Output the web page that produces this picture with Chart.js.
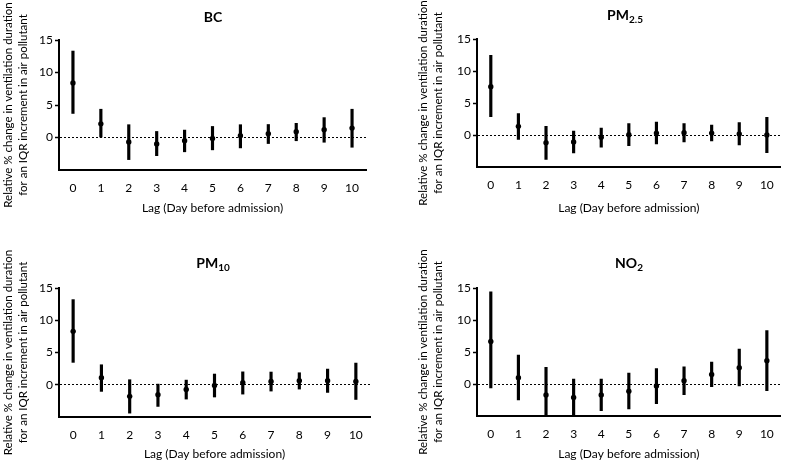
<!DOCTYPE html>
<html><head><meta charset="utf-8">
<script src="https://cdn.jsdelivr.net/npm/chart.js@4"></script>
<style>
body{margin:0;background:#fff;width:785px;height:463px;position:relative;overflow:hidden;font-family:Lato,sans-serif}
canvas{position:absolute}
.t{position:absolute;font-weight:bold;font-size:14px;color:#000;transform:translate(-50%,-50%);white-space:nowrap;line-height:1}
.t sub{font-size:10px;vertical-align:-3px}
</style></head><body>
<canvas id="cBC" style="left:0;top:0" width="392" height="231"></canvas>
<canvas id="cPM25" style="left:392px;top:0" width="393" height="231"></canvas>
<canvas id="cPM10" style="left:0;top:231px" width="392" height="232"></canvas>
<canvas id="cNO2" style="left:392px;top:231px" width="393" height="232"></canvas>
<div class="t" style="left:213px;top:17px">BC</div>
<div class="t" style="left:625px;top:16px">PM<sub>2.5</sub></div>
<div class="t" style="left:213px;top:264px">PM<sub>10</sub></div>
<div class="t" style="left:629px;top:264px">NO<sub>2</sub></div>
<script>
// lag days
const lags = ['0','1','2','3','4','5','6','7','8','9','10'];
const yTicks = [-5,0,5,10,15];

// BC
const bcEst = [8.4, 2.1, -0.7, -1.0, -0.5, -0.15, 0.26, 0.57, 0.88, 1.19, 1.45];
const bcLo  = [3.7, 0.0, -3.4, -2.8, -2.2, -1.9, -1.6, -0.93, -0.5, -0.73, -1.5];
const bcHi  = [13.3, 4.35, 1.97, 0.93, 1.14, 1.7, 1.97, 2.0, 2.18, 3.06, 4.35];

// PM2.5
const pm25Est = [7.55, 1.35, -1.2, -1.1, -0.36, 0.05, 0.3, 0.36, 0.3, 0.15, 0.0];
const pm25Lo  = [2.86, -0.68, -3.8, -2.8, -1.9, -1.67, -1.4, -1.1, -0.94, -1.56, -2.76];
const pm25Hi  = [12.45, 3.33, 1.35, 0.62, 1.1, 1.8, 2.0, 1.77, 1.56, 1.93, 2.76];

// PM10
const pm10Est = [8.28, 1.09, -1.8, -1.55, -0.72, -0.1, 0.31, 0.52, 0.62, 0.62, 0.52];
const pm10Lo  = [3.47, -1.03, -4.4, -3.36, -2.22, -1.9, -1.45, -0.98, -0.67, -1.19, -2.28];
const pm10Hi  = [13.2, 3.1, 0.78, 0.1, 0.72, 1.66, 2.0, 1.97, 1.86, 2.43, 3.36];

// NO2
const no2Est = [6.64, 0.99, -1.7, -2.1, -1.7, -1.14, -0.31, 0.52, 1.5, 2.54, 3.63];
const no2Lo  = [-0.62, -2.5, -6.0, -5.4, -4.15, -3.9, -3.06, -1.66, -0.42, -0.31, -1.04];
const no2Hi  = [14.4, 4.5, 2.6, 0.78, 0.78, 1.7, 2.4, 2.7, 3.43, 5.45, 8.35];

const yTitle = ['Relative % change in ventilation duration','for an IQR increment in air pollutant'];
const FONT = 'Lato, sans-serif';

function makeChart(id, est, lo, hi, box){
  const cv = document.getElementById(id);
  new Chart(cv, {
    data:{
      labels: lags,
      datasets:[
        {type:'line', data:est, showLine:false, pointRadius:2.7, pointBackgroundColor:'#000', pointBorderWidth:0, order:0},
        {type:'bar', data:lo.map((v,i)=>[v,hi[i]]), backgroundColor:'#000', barThickness:2.5, order:1}
      ]
    },
    options:{
      responsive:false, animation:false, devicePixelRatio:1,
      layout:{padding:{left:0, right:cv.width-box.right, top:box.top, bottom:0}},
      plugins:{legend:{display:false}, tooltip:{enabled:false}},
      scales:{
        x:{
          type:'category', offset:true,
          grid:{display:false, drawTicks:false},
          border:{color:'#000', width:2},
          ticks:{color:'#000', font:{family:FONT, size:12}, padding:11},
          title:{display:true, text:'Lag (Day before admission)', color:'#000', font:{family:FONT, size:12}, padding:{top:0,bottom:box.xTitlePad}},
          afterFit:s=>{ s.height = cv.height - box.bottom; }
        },
        y:{
          min:-5, max:15,
          afterBuildTicks:s=>{ s.ticks = yTicks.map(v=>({value:v})); },
          ticks:{color:'#000', font:{family:FONT, size:12}, padding:2, callback:v=>v===-5?'':v},
          grid:{
            color:c=>(c.tick && c.tick.value===0)?'#000':'rgba(0,0,0,0)',
            tickColor:c=>(c.tick && c.tick.value===-5)?'rgba(0,0,0,0)':'#000',
            tickLength:4, tickWidth:1.5, lineWidth:1
          },
          border:{color:'#000', width:2, dash:[2,2]},
          title:{display:true, text:yTitle, color:'#000', font:{family:FONT, size:11.5, lineHeight:1.3}, padding:{top:box.yTitlePad, bottom:0}},
          afterFit:s=>{ s.width = box.left; }
        }
      }
    }
  });
}

makeChart('cBC', bcEst, bcLo, bcHi, {left:59, right:366, top:40, bottom:170, xTitlePad:16, yTitlePad:1});
makeChart('cPM25', pm25Est, pm25Lo, pm25Hi, {left:85, right:390, top:39, bottom:167, xTitlePad:16, yTitlePad:24});
makeChart('cPM10', pm10Est, pm10Lo, pm10Hi, {left:59, right:370, top:57, bottom:186, xTitlePad:1.5, yTitlePad:1});
makeChart('cNO2', no2Est, no2Lo, no2Hi, {left:85, right:390, top:57, bottom:185, xTitlePad:1.5, yTitlePad:24});
</script>
</body></html>
